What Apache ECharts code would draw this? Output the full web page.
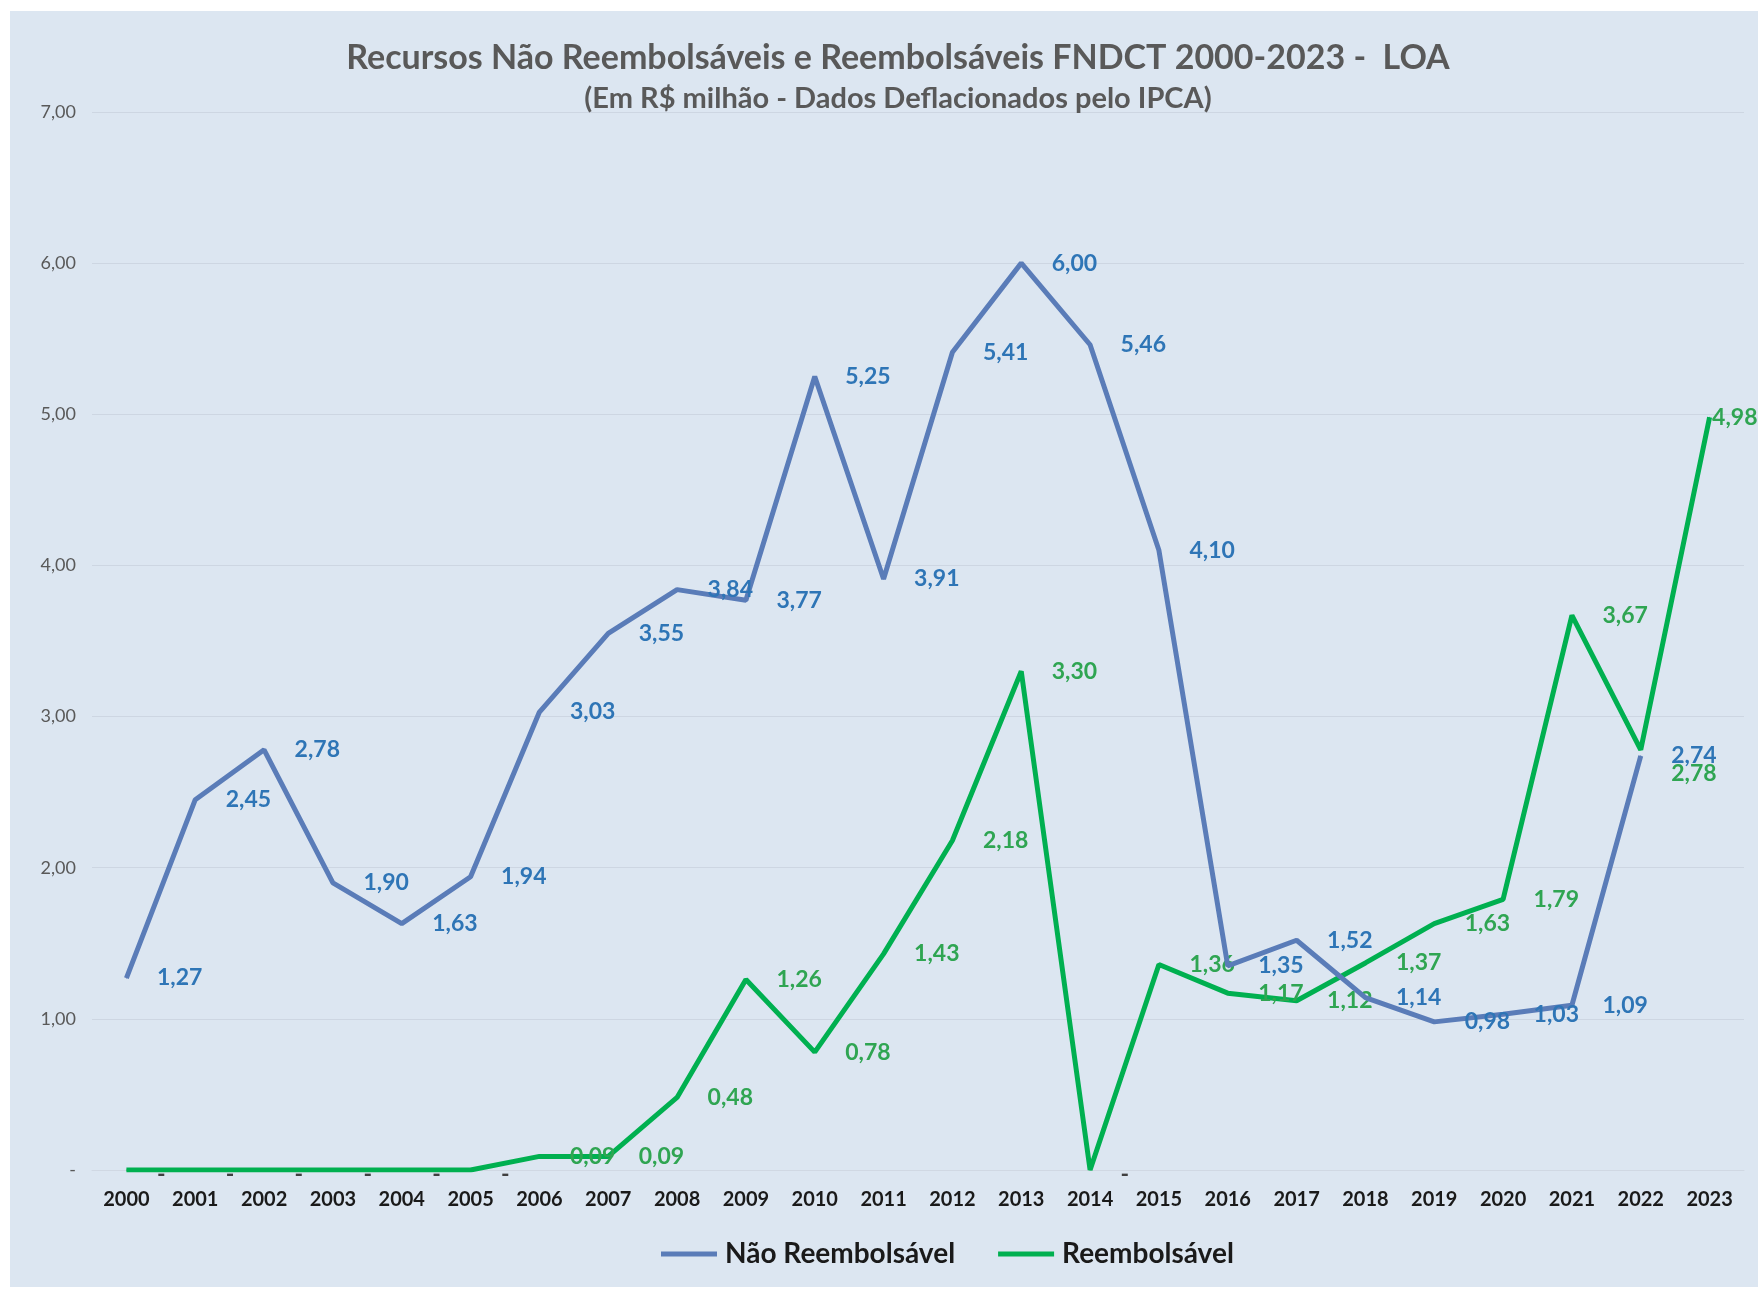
<!DOCTYPE html>
<html>
<head>
<meta charset="utf-8">
<script src="https://cdn.jsdelivr.net/npm/echarts@6/dist/echarts.min.js"></script>
<style>
  html, body { margin: 0; padding: 0; background: #fff; }
  #chart { width: 1758px; height: 1291px; }
</style>
</head>
<body>
<div id="chart"></div>
<script>
// anos
var years = ['2000', '2001', '2002', '2003', '2004', '2005', '2006', '2007', '2008', '2009', '2010', '2011',
             '2012', '2013', '2014', '2015', '2016', '2017', '2018', '2019', '2020', '2021', '2022', '2023'];
// Não Reembolsável (2023 sem valor)
var naoReemb = [1.27, 2.45, 2.78, 1.90, 1.63, 1.94, 3.03, 3.55, 3.84, 3.77, 5.25, 3.91,
                5.41, 6.00, 5.46, 4.10, 1.35, 1.52, 1.14, 0.98, 1.03, 1.09, 2.74, null];
// Reembolsável
var reemb = [0, 0, 0, 0, 0, 0, 0.09, 0.09, 0.48, 1.26, 0.78, 1.43,
             2.18, 3.30, 0, 1.36, 1.17, 1.12, 1.37, 1.63, 1.79, 3.67, 2.78, 4.98];
var yTicks = [0, 1, 2, 3, 4, 5, 6, 7];

var chart = echarts.init(document.getElementById('chart'));

function fmt(v) {
    if (v === 0) return '-';
    return v.toFixed(2).replace('.', ',');
}

// pontos do verde: alguns rótulos deslocados como no original
var reembData = reemb.map(function (v, i) {
    if (v === 0) return { value: v, label: { color: '#404040', offset: [0, 5] } };
    if (i === 22) return { value: v, label: { offset: [0, 24] } };
    if (i === 23) return { value: v, label: { distance: 2 } };
    return v;
});

var option = {
    backgroundColor: '#ffffff',
    animation: false,
    graphic: [{
        type: 'rect',
        shape: { x: 10, y: 11, width: 1748, height: 1276 },
        style: { fill: '#dce6f1' },
        z: -10
    }],
    title: {
        text: 'Recursos Não Reembolsáveis e Reembolsáveis FNDCT 2000-2023 -  LOA',
        subtext: '(Em R$ milhão - Dados Deflacionados pelo IPCA)',
        left: 893,
        textAlign: 'center',
        top: 36,
        itemGap: 9,
        textStyle: { fontFamily: 'Lato', fontWeight: 'bold', fontSize: 34, color: '#595959' },
        subtextStyle: { fontFamily: 'Lato', fontWeight: 'bold', fontSize: 29, color: '#595959' }
    },
    legend: {
        bottom: 18,
        left: 656,
        itemWidth: 56,
        itemHeight: 5,
        itemGap: 43,
        icon: 'rect',
        textStyle: { fontFamily: 'Lato', fontWeight: 'bold', fontSize: 28, color: '#1a1a1a', padding: [0, 0, 0, 3] },
        data: ['Não Reembolsável', 'Reembolsável']
    },
    grid: { left: 92, right: 14, top: 112, bottom: 121 },
    xAxis: {
        type: 'category',
        data: years,
        boundaryGap: true,
        axisLine: { show: true, lineStyle: { color: '#d0d8e3' } },
        axisTick: { show: false },
        axisLabel: { fontFamily: 'Lato', fontWeight: 'bold', fontSize: 20, color: '#1a1a1a', margin: 20 }
    },
    yAxis: {
        type: 'value',
        min: yTicks[0],
        max: yTicks[yTicks.length - 1],
        interval: 1,
        axisLine: { show: false },
        axisTick: { show: false },
        splitLine: { lineStyle: { color: '#cdd6e2', width: 1 } },
        axisLabel: {
            fontFamily: 'Lato', fontSize: 18, color: '#595959', margin: 16,
            formatter: fmt
        }
    },
    series: [{
        name: 'Não Reembolsável',
        type: 'line',
        data: naoReemb,
        symbol: 'circle',
        symbolSize: 1,
        showSymbol: true,
        showAllSymbol: true,
        color: '#5a7cb8',
        lineStyle: { width: 5, color: '#5a7cb8' },
        label: {
            show: true,
            position: 'right',
            distance: 30,
            formatter: function (p) { return fmt(p.value); },
            fontFamily: 'Lato', fontWeight: 'bold', fontSize: 23, color: '#2e75b6'
        },
        z: 3
    }, {
        name: 'Reembolsável',
        type: 'line',
        data: reembData,
        symbol: 'circle',
        symbolSize: 1,
        showSymbol: true,
        showAllSymbol: true,
        color: '#00b050',
        lineStyle: { width: 5, color: '#00b050' },
        label: {
            show: true,
            position: 'right',
            distance: 30,
            formatter: function (p) { return fmt(p.value); },
            fontFamily: 'Lato', fontWeight: 'bold', fontSize: 23, color: '#2fa552'
        },
        z: 2
    }]
};

chart.setOption(option);
</script>
</body>
</html>
